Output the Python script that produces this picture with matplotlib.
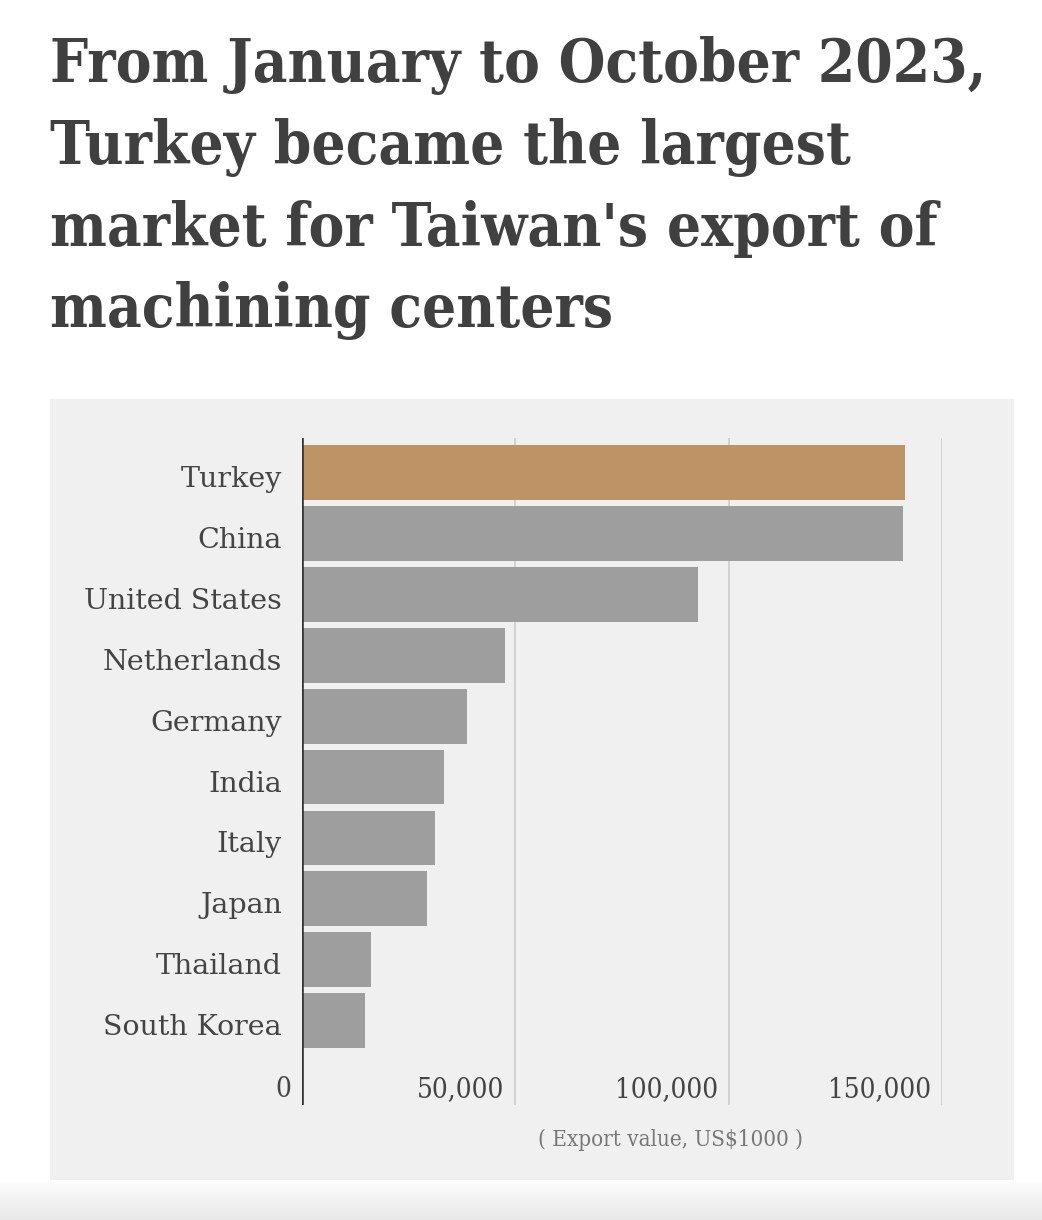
import matplotlib
matplotlib.use("Agg")
import matplotlib.pyplot as plt
import numpy as np
from matplotlib.patches import Rectangle

countries = ["Turkey", "China", "United States", "Netherlands", "Germany",
             "India", "Italy", "Japan", "Thailand", "South Korea"]
values = [141300, 140900, 92800, 47600, 38700, 33300, 31200, 29300, 16200, 14800]
xticks = [0, 50000, 100000, 150000]
xtick_labels = ["0", "50,000", "100,000", "150,000"]

W, H = 1042, 1220
fig = plt.figure(figsize=(W / 100, H / 100), dpi=100)
fig.patch.set_facecolor("white")

# gray panel
fig.patches.append(Rectangle((50 / W, 1 - 1180 / H), 964 / W, 781 / H,
                             transform=fig.transFigure, facecolor="#f0f0f0",
                             edgecolor="none", zorder=-10))

# fade at the bottom
gax = fig.add_axes([0, 0, 1, 38 / H], zorder=-5)
grad = np.linspace(0, 1, 50).reshape(-1, 1)
gax.imshow(grad, aspect="auto", cmap=matplotlib.colors.LinearSegmentedColormap.from_list(
    "g", ["#e8e8e8", "#fcfcfc"]), origin="lower", extent=[0, 1, 0, 1])
gax.axis("off")

title = ("From January to October 2023,\nTurkey became the largest\n"
         "market for Taiwan's export of\nmachining centers")
fig.text(50 / W, 1 - 36 / H, title, ha="left", va="top", fontsize=43,
         fontweight="bold", family="DejaVu Serif", fontstretch="condensed",
         color="#404040", linespacing=1.5)

ax = fig.add_axes([302 / W, 1 - 1105 / H, 640 / W, 667 / H], zorder=2)
ax.set_facecolor("none")
y = np.arange(len(countries))
colors = ["#be9466"] + ["#9e9e9e"] * (len(countries) - 1)
ax.barh(y, values, height=0.9, color=colors, zorder=3)
ax.set_xlim(0, 150000)
ax.set_ylim(10.386, -0.567)

for t in xticks[1:]:
    ax.axvline(t, color="#cccccc", lw=1.2, zorder=1)
ax.axvline(0, color="#333333", lw=2.6, zorder=4)

for s in ax.spines.values():
    s.set_visible(False)
ax.set_xticks([])
ax.set_yticks([])

for yi, name in zip(y, countries):
    ax.text(-4700, yi + 0.238, name, ha="right", va="baseline", fontsize=20.5,
            family="DejaVu Serif", color="#444444", clip_on=False)

for t, lab in zip(xticks, xtick_labels):
    ax.text(t - 2500, 10.254, lab, ha="right", va="baseline", fontsize=20,
            family="DejaVu Serif", fontstretch="condensed", color="#444444",
            clip_on=False)

fig.text(671 / W, 1 - 1146 / H, "( Export value, US$1000 )",
         ha="center", va="baseline", fontsize=16, family="DejaVu Serif",
         fontstretch="condensed", color="#777777")

fig.savefig("out.png", dpi=100, facecolor="white")
